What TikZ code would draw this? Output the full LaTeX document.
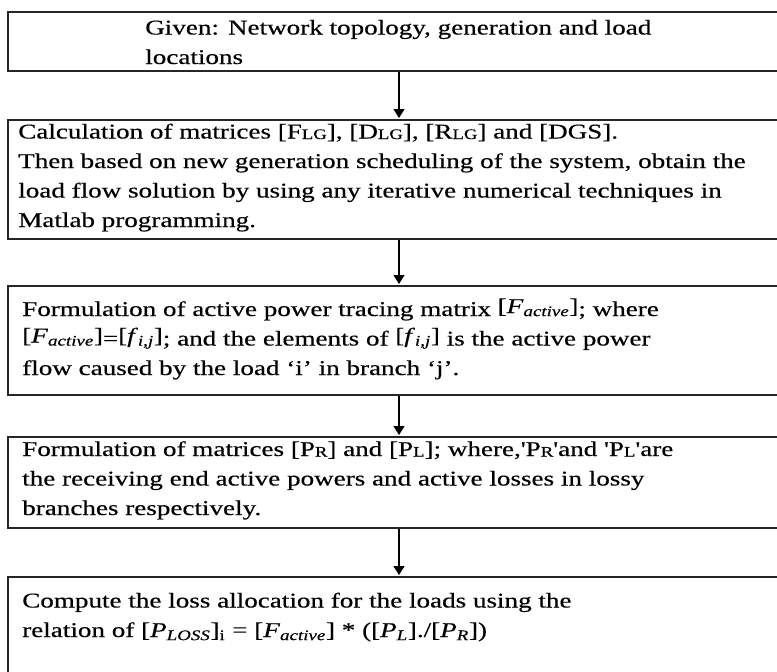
\documentclass[tikz,border=0pt]{standalone}
\usepackage{fontspec}
\setmainfont{Liberation Serif}[Ligatures=TeXOff,UprightFeatures={FakeBold=0.35},ItalicFeatures={FakeBold=0.35}]
\usetikzlibrary{arrows.meta}
\newcommand{\smc}[1]{\raisebox{-0.5pt}{\fontsize{14.5}{14.5}\selectfont #1}}
\newcommand{\mth}[2]{\textit{#1}\textsubscript{\textit{#2}}}
\begin{document}
\begin{tikzpicture}[x=1pt,y=-1pt,
  box/.style={draw=black!85,line width=1.8pt,rectangle,inner sep=0pt,anchor=north west},
  txt/.style={anchor=base west,inner sep=0pt,align=left,font=\fontsize{21}{29.5}\selectfont,text=black,xscale=1.29,transform shape},
  arr/.style={draw=black,line width=1.5pt,-{Triangle[length=9pt,width=11pt]},shorten >=1pt}]
\useasboundingbox (0,0) rectangle (777,672);
\clip (0,0) rectangle (777,672);
\coordinate (ax) at (399,0);
\node[box,minimum width=800pt,minimum height=59pt] (b1) at (7,11) {};
\node[box,minimum width=800pt,minimum height=119pt] (b2) at (7,119) {};
\node[box,minimum width=800pt,minimum height=109pt] (b3) at (7,285) {};
\node[box,minimum width=800pt,minimum height=91pt] (b4) at (7,436) {};
\node[box,minimum width=800pt,minimum height=150pt] (b5) at (7,576) {};
\node[txt] (t1) at (145,64) {Given: Network topology, generation and load\\locations};
\node[txt] (t2) at (18,227) {Calculation of matrices [F\smc{LG}], [D\smc{LG}], [R\smc{LG}] and [DGS].\\Then based on new generation scheduling of the system, obtain the\\load flow solution by using any iterative numerical techniques in\\Matlab programming.};
\node[txt] (t3) at (22,375) {Formulation of active power tracing matrix \raisebox{3pt}{[\mth{F}{active}]}; where\\\raisebox{3pt}{[\mth{F}{active}]}=\raisebox{3pt}{[\mth{f}{i,j}]}; and the elements of \raisebox{3pt}{[\mth{f}{i,j}]} is the active power\\flow caused by the load ‘i’ in branch ‘j’.};
\node[txt] (t4) at (22,515) {Formulation of matrices [P\smc{R}] and [P\smc{L}]; where,'P\smc{R}'and 'P\smc{L}'are\\the receiving end active powers and active losses in lossy\\branches respectively.};
\node[txt] (t5) at (22,637) {Compute the loss allocation for the loads using the\\relation of [\mth{P}{LOSS}]\textsubscript{i} = [\mth{F}{active}] * ([\mth{P}{L}]./[\mth{P}{R}])};
\draw[arr] (b1.south west -| ax) -- (b2.north west -| ax);
\draw[arr] (b2.south west -| ax) -- (b3.north west -| ax);
\draw[arr] (b3.south west -| ax) -- (b4.north west -| ax);
\draw[arr] (b4.south west -| ax) -- (b5.north west -| ax);
\end{tikzpicture}
\end{document}
